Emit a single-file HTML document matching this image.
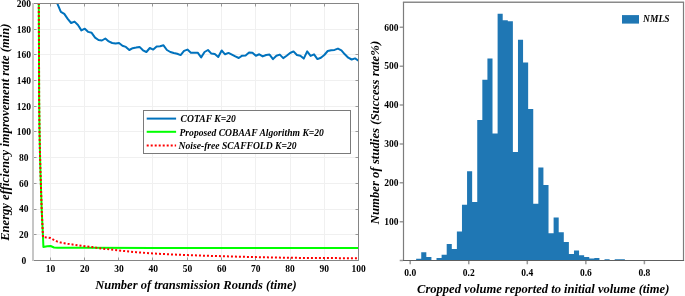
<!DOCTYPE html>
<html><head><meta charset="utf-8"><title>Charts</title>
<style>html,body{margin:0;padding:0;background:#fff;}body{width:685px;height:296px;position:relative;overflow:hidden;font-family:"Liberation Serif", serif;}</style>
</head><body>
<svg width="685" height="296" viewBox="0 0 685 296" style="position:absolute;left:0;top:0;will-change:transform"><defs><clipPath id="lc"><rect x="33.50" y="3.50" width="325.00" height="257.00"/></clipPath></defs><path d="M50.5,3.5V260.5M84.5,3.5V260.5M118.5,3.5V260.5M152.5,3.5V260.5M187.5,3.5V260.5M221.5,3.5V260.5M255.5,3.5V260.5M290.5,3.5V260.5M324.5,3.5V260.5M33.5,234.5H358.5M33.5,209.5H358.5M33.5,183.5H358.5M33.5,157.5H358.5M33.5,131.5H358.5M33.5,106.5H358.5M33.5,80.5H358.5M33.5,54.5H358.5M33.5,29.5H358.5" stroke="#f0f0f0" stroke-width="1" fill="none"/><path d="M50.5,260.5v-3M50.5,3.5v3M84.5,260.5v-3M84.5,3.5v3M118.5,260.5v-3M118.5,3.5v3M152.5,260.5v-3M152.5,3.5v3M187.5,260.5v-3M187.5,3.5v3M221.5,260.5v-3M221.5,3.5v3M255.5,260.5v-3M255.5,3.5v3M290.5,260.5v-3M290.5,3.5v3M324.5,260.5v-3M324.5,3.5v3M358.5,260.5v-3M358.5,3.5v3M33.5,260.5h3M358.5,260.5h-3M33.5,234.5h3M358.5,234.5h-3M33.5,209.5h3M358.5,209.5h-3M33.5,183.5h3M358.5,183.5h-3M33.5,157.5h3M358.5,157.5h-3M33.5,131.5h3M358.5,131.5h-3M33.5,106.5h3M358.5,106.5h-3M33.5,80.5h3M358.5,80.5h-3M33.5,54.5h3M358.5,54.5h-3M33.5,29.5h3M358.5,29.5h-3M33.5,3.5h3M358.5,3.5h-3" stroke="#999" stroke-width="1" fill="none"/><g clip-path="url(#lc)" fill="none" stroke-linejoin="round"><polyline points="54.03,-8.00 57.45,3.80 60.87,11.90 64.29,13.90 67.71,18.90 71.13,23.00 74.55,21.60 77.97,25.00 81.39,30.40 84.82,28.70 88.24,31.90 91.66,32.80 95.08,37.60 98.50,40.00 101.92,40.50 105.34,38.50 108.76,41.40 112.18,43.00 115.61,43.60 119.03,43.00 122.45,45.80 125.87,46.90 129.29,50.00 132.71,48.20 136.13,47.60 139.55,46.90 142.97,50.30 146.39,52.00 149.82,48.00 153.24,49.60 156.66,46.50 160.08,46.30 163.50,45.30 166.92,50.00 170.34,52.00 173.76,53.00 177.18,53.80 180.61,55.10 184.03,50.90 187.45,49.60 190.87,52.70 194.29,52.70 197.71,52.70 201.13,57.40 204.55,52.00 207.97,50.00 211.39,53.60 214.82,54.10 218.24,57.00 221.66,50.50 225.08,54.30 228.50,52.90 231.92,54.60 235.34,56.40 238.76,58.00 242.18,55.70 245.61,55.40 249.03,52.60 252.45,52.70 255.87,55.70 259.29,54.30 262.71,56.40 266.13,55.00 269.55,54.60 272.97,59.10 276.39,55.70 279.82,54.60 283.24,58.10 286.66,55.70 290.08,53.00 293.50,51.40 296.92,55.00 300.34,55.70 303.76,58.60 307.18,51.40 310.61,55.90 314.03,54.30 317.45,59.10 320.87,57.70 324.29,55.00 327.71,51.00 331.13,50.30 334.55,49.90 337.97,48.60 341.39,50.30 344.82,54.30 348.24,57.70 351.66,59.50 355.08,58.40 358.50,60.80" stroke="#0072BD" stroke-width="2"/><polyline points="38.75,-5.00 38.95,40.00 39.15,100.00 39.50,130.00 39.90,150.00 40.40,170.00 40.90,185.00 41.70,210.00 43.00,237.20 43.40,246.90 47.18,246.30 50.61,246.00 54.03,247.50 57.45,247.80 84.82,247.80 153.24,247.90 221.66,247.90 290.08,247.90 358.50,247.90" stroke="#00FF00" stroke-width="2"/><polyline points="38.75,-5.00 38.95,40.00 39.15,100.00 39.50,130.00 39.90,150.00 40.40,170.00 40.90,185.00 41.70,210.00 43.00,237.20 47.18,237.60 50.61,238.10 54.03,240.00 57.45,241.60 60.87,242.60 64.29,243.20 67.71,243.80 71.13,244.30 74.55,244.80 77.97,245.30 81.39,245.80 84.82,246.30 91.66,247.10 101.92,248.50 119.03,250.50 136.13,252.20 153.24,253.50 170.34,254.40 187.45,255.10 204.55,255.70 221.66,256.20 238.76,256.70 255.87,257.10 272.97,257.50 290.08,257.80 307.18,257.95 324.29,258.05 341.39,258.15 358.50,258.20" stroke="#FF0000" stroke-width="2" stroke-dasharray="2 2"/></g><path d="M33.0,3.5H358.5V260.5H33.0" fill="none" stroke="#858585" stroke-width="1"/><path d="M33,3.0V261.0" stroke="#c6c6c6" stroke-width="2"/><g font-family='"Liberation Serif", serif' font-weight="bold" font-size="9.5" fill="#000"><text x="50.61" y="272.2" text-anchor="middle">10</text><text x="84.82" y="272.2" text-anchor="middle">20</text><text x="119.03" y="272.2" text-anchor="middle">30</text><text x="153.24" y="272.2" text-anchor="middle">40</text><text x="187.45" y="272.2" text-anchor="middle">50</text><text x="221.66" y="272.2" text-anchor="middle">60</text><text x="255.87" y="272.2" text-anchor="middle">70</text><text x="290.08" y="272.2" text-anchor="middle">80</text><text x="324.29" y="272.2" text-anchor="middle">90</text><text x="358.50" y="272.2" text-anchor="middle">100</text><text x="23.8" y="263.80" text-anchor="middle">0</text><text x="23.8" y="238.10" text-anchor="middle">20</text><text x="23.8" y="212.40" text-anchor="middle">40</text><text x="23.8" y="186.70" text-anchor="middle">60</text><text x="23.8" y="161.00" text-anchor="middle">80</text><text x="23.8" y="135.30" text-anchor="middle">100</text><text x="23.8" y="109.60" text-anchor="middle">120</text><text x="23.8" y="83.90" text-anchor="middle">140</text><text x="23.8" y="58.20" text-anchor="middle">160</text><text x="23.8" y="32.50" text-anchor="middle">180</text><text x="23.8" y="6.80" text-anchor="middle">200</text></g><text x="195.9" y="288.5" text-anchor="middle" font-family='"Liberation Serif", serif' font-weight="bold" font-style="italic" font-size="12.5">Number of transmission Rounds (time)</text><text transform="translate(8.9,132.2) rotate(-90)" text-anchor="middle" font-family='"Liberation Serif", serif' font-weight="bold" font-style="italic" font-size="12.6">Energy efficiency improvement rate (min)</text><rect x="143.5" y="110.5" width="207" height="43" fill="#fff" stroke="#7a7a7a" stroke-width="1"/><path d="M146.7,118.6H176.1" stroke="#0072BD" stroke-width="2"/><path d="M146.7,131.8H176.1" stroke="#00FF00" stroke-width="2"/><path d="M146.7,145.6H176.1" stroke="#FF0000" stroke-width="2" stroke-dasharray="2 2"/><g font-family='"Liberation Serif", serif' font-weight="bold" font-style="italic" font-size="9.6" fill="#000"><text x="180.6" y="122.3">COTAF K=20</text><text x="179.5" y="135.6">Proposed COBAAF Algorithm K=20</text><text x="178.6" y="148.5">Noise-free SCAFFOLD K=20</text></g><path d="M416.15,260.5V258.70H421.24V260.5ZM421.24,260.5V252.30H426.33V260.5ZM426.33,260.5V257.00H431.42V260.5ZM436.51,260.5V258.00H441.60V260.5ZM441.60,260.5V254.80H446.70V260.5ZM446.70,260.5V244.10H451.79V260.5ZM451.79,260.5V249.00H456.88V260.5ZM456.88,260.5V231.40H461.97V260.5ZM461.97,260.5V204.80H467.06V260.5ZM467.06,260.5V171.30H472.15V260.5ZM472.15,260.5V202.00H477.24V260.5ZM477.24,260.5V119.90H482.33V260.5ZM482.33,260.5V79.80H487.42V260.5ZM487.42,260.5V58.50H492.51V260.5ZM492.51,260.5V133.60H497.61V260.5ZM497.61,260.5V13.70H502.70V260.5ZM502.70,260.5V20.20H507.79V260.5ZM507.79,260.5V21.20H512.88V260.5ZM512.88,260.5V152.00H517.97V260.5ZM517.97,260.5V39.70H523.06V260.5ZM523.06,260.5V62.50H528.15V260.5ZM528.15,260.5V109.00H533.24V260.5ZM533.24,260.5V203.80H538.33V260.5ZM538.33,260.5V167.60H543.42V260.5ZM543.42,260.5V185.00H548.52V260.5ZM548.52,260.5V233.30H553.61V260.5ZM553.61,260.5V217.40H558.70V260.5ZM558.70,260.5V232.30H563.79V260.5ZM563.79,260.5V242.10H568.88V260.5ZM568.88,260.5V253.90H573.97V260.5ZM573.97,260.5V250.40H579.06V260.5ZM579.06,260.5V255.20H584.15V260.5ZM584.15,260.5V257.10H589.24V260.5ZM589.24,260.5V258.60H594.33V260.5ZM594.34,260.5V258.00H599.43V260.5ZM604.52,260.5V259.20H609.61V260.5ZM614.70,260.5V259.20H619.79V260.5ZM619.79,260.5V259.20H624.88V260.5Z" fill="#1f77b4"/><path d="M402.9,2.2H684.1" stroke="#8a8a8a" stroke-width="1.4"/><path d="M403.5,2.2V260.5M683.5,2.2V260.5" stroke="#7c7c7c" stroke-width="1.2"/><path d="M402.9,260.5H684.1" stroke="#5e5e5e" stroke-width="1.2"/><path d="M410.20,261.0v3.3M468.75,261.0v3.3M527.30,261.0v3.3M585.85,261.0v3.3M644.40,261.0v3.3M403.0,260.50h-3.3M403.0,221.63h-3.3M403.0,182.77h-3.3M403.0,143.90h-3.3M403.0,105.03h-3.3M403.0,66.17h-3.3M403.0,27.30h-3.3" stroke="#9a9a9a" stroke-width="1.5" fill="none"/><g font-family='"Liberation Serif", serif' font-weight="bold" font-size="9.5" fill="#000"><text x="410.20" y="275.7" text-anchor="middle">0.0</text><text x="468.75" y="275.7" text-anchor="middle">0.2</text><text x="527.30" y="275.7" text-anchor="middle">0.4</text><text x="585.85" y="275.7" text-anchor="middle">0.6</text><text x="644.40" y="275.7" text-anchor="middle">0.8</text><text x="398.4" y="224.93" text-anchor="end">100</text><text x="398.4" y="186.07" text-anchor="end">200</text><text x="398.4" y="147.20" text-anchor="end">300</text><text x="398.4" y="108.33" text-anchor="end">400</text><text x="398.4" y="69.47" text-anchor="end">500</text><text x="398.4" y="30.60" text-anchor="end">600</text></g><text x="543.2" y="292.9" text-anchor="middle" font-family='"Liberation Serif", serif' font-weight="bold" font-style="italic" font-size="12.55">Cropped volume reported to initial volume (time)</text><text transform="translate(378.6,132.6) rotate(-90)" text-anchor="middle" font-family='"Liberation Serif", serif' font-weight="bold" font-style="italic" font-size="12.75">Number of studies (Success rate%)</text><rect x="622" y="15.1" width="17" height="8.5" fill="#1f77b4"/><text x="643.1" y="22.0" font-family='"Liberation Serif", serif' font-weight="bold" font-style="italic" font-size="9.5">NMLS</text></svg>
</body></html>
